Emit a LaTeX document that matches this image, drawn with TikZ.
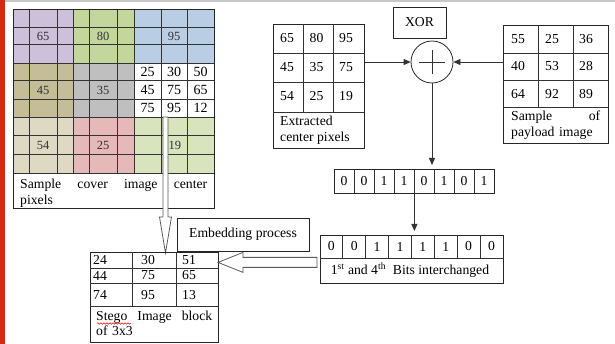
\documentclass[tikz,border=0pt]{standalone}
\usepackage{fontspec}
\setmainfont{Liberation Serif}
\usetikzlibrary{arrows.meta,calc,decorations.pathmorphing}

\definecolor{lavender}{HTML}{CCC0DA}
\definecolor{leaf}{HTML}{C3D69B}
\definecolor{sky}{HTML}{B9CDE5}
\definecolor{khaki}{HTML}{C4BD97}
\definecolor{stone}{HTML}{BFBFBF}
\definecolor{beige}{HTML}{DDD9C3}
\definecolor{rose}{HTML}{E6B9B8}
\definecolor{mint}{HTML}{D7E4BD}
\definecolor{sidebar}{HTML}{D5281B}

\begin{document}
\begin{tikzpicture}[x=1pt,y=-1pt,>={Triangle[length=7pt,width=6pt]},
    font=\fontsize{13.7}{15.5}\selectfont,
    frame/.style={draw=black!85,line width=0.8pt,inner sep=0pt,anchor=north west},
    grid line/.style={draw=black!80,line width=0.8pt},
    hollow/.style={draw=black!65,fill=white,line width=0.8pt},
    num/.style={inner sep=0pt,anchor=west},
    covernum/.style={inner sep=0pt,text=black!80,font=\fontsize{12.5}{14}\selectfont},
    bignum/.style={inner sep=0pt,font=\fontsize{14}{16}\selectfont},
    caption/.style={inner xsep=7pt,inner ysep=4pt,anchor=north west,align=left}]

    \useasboundingbox (0,0) rectangle (615,344);

    % Page edges
    \fill[sidebar] (0,0) rectangle (5,344);
    \fill[black!22] (5,0) rectangle (615,2.5);

    % Cover image blocks
    \foreach \xa/\xb/\ya/\yb/\col in {13/73/9/63/lavender, 73/134/9/63/leaf,
            134/214/9/63/sky, 13/73/63/117/khaki, 73/134/63/117/stone,
            134/214/63/117/white, 13/73/117/173/beige, 73/134/117/173/rose,
            134/214/117/173/mint} {
        \fill[\col] (\xa,\ya) rectangle (\xb,\yb);
    }
    \foreach \x in {29,57,73,89,117,134,161,187} {
        \draw[grid line] (\x,9) -- (\x,173);
    }
    \foreach \y in {27,44,63,80,99,117,135,154,173} {
        \draw[grid line] (13,\y) -- (214,\y);
    }
    \node[frame,minimum width=201pt,minimum height=199pt] (cover) at (13,9) {};

    \foreach \x/\y/\v [count=\i] in {43/36/65, 103/36/80, 174/36/95,
            43/90/45, 103/90/35, 43/145/54, 103/145/25} {
        \node[covernum] (cov\i) at (\x,\y) {\v};
    }
    \node[covernum,anchor=west] (cov8) at (168.5,145) {19};

    % Center block in white
    \foreach \v [count=\i from 0] in {25,30,50,45,75,65,75,95,12} {
        \pgfmathtruncatemacro{\r}{int(\i/3)}
        \pgfmathtruncatemacro{\c}{mod(\i,3)}
        \node[bignum] (ctr\i) at (147.5+26.5*\c,71.5+18.2*\r) {\v};
    }

    \node[caption,text width=187pt,inner ysep=6pt] (covercap) at (13,173)
        {\hbox to 187pt{Sample\hfill cover\hfill image\hfill center}\\pixels};

    % Down arrow to stego block
    \coordinate (downfrom) at (165.5,117);
    \draw[hollow] (downfrom) ++(-2.5,0) -- ++(0,100) -- ++(-3.5,0)
        -- ++(6,36) -- ++(6,-36) -- ++(-3.5,0) -- ++(0,-100) -- cycle;

    % Extracted center pixels
    \node[frame,minimum width=91pt,minimum height=124pt] (ext) at (273,24) {};
    \foreach \x in {303,333} {
        \draw[grid line] (\x,24) -- (\x,112);
    }
    \foreach \y in {53,82,112} {
        \draw[grid line] (273,\y) -- (364,\y);
    }
    \foreach \v [count=\i from 0] in {65,80,95,45,35,75,54,25,19} {
        \pgfmathtruncatemacro{\r}{int(\i/3)}
        \pgfmathtruncatemacro{\c}{mod(\i,3)}
        \node[num] (ext\i) at (280+29.5*\c,38.5+29*\r) {\v};
    }
    \node[caption] (extcap) at (273,112) {Extracted\\center pixels};

    % Payload sample
    \node[frame,minimum width=105pt,minimum height=118pt] (pay) at (503,25) {};
    \foreach \x in {538,573} {
        \draw[grid line] (\x,25) -- (\x,107);
    }
    \foreach \y in {53,80,107} {
        \draw[grid line] (503,\y) -- (608,\y);
    }
    \foreach \v [count=\i from 0] in {55,25,36,40,53,28,64,92,89} {
        \pgfmathtruncatemacro{\r}{int(\i/3)}
        \pgfmathtruncatemacro{\c}{mod(\i,3)}
        \node[num] (pay\i) at (511+34*\c,39+27.3*\r) {\v};
    }
    \node[caption,text width=89pt,inner xsep=8pt] (paycap) at (503,107)
        {\hbox to 89pt{Sample\hfill of}\\payload image};

    % XOR
    \node[draw=black!85,line width=0.8pt,minimum width=53pt,minimum height=31pt]
        (xorlbl) at (419.5,22.5) {XOR};
    \node[draw=black!85,line width=0.8pt,circle,minimum size=42pt] (xor) at (432,62) {};
    \draw[black!80,line width=0.8pt] (xor.center) ++(-13,0) -- ++(26,0);
    \draw[black!80,line width=0.8pt] (xor.center) ++(0,-12) -- ++(0,24);

    \draw[->,black!80,line width=0.8pt] (ext.east |- xor.west) -- (xor.west);
    \draw[->,black!80,line width=0.8pt] (pay.west |- xor.east) -- (xor.east);

    % XOR result bits
    \node[frame,minimum width=160pt,minimum height=24pt] (bit1) at (334,169) {};
    \foreach \k in {1,...,7} {
        \draw[grid line] (334+20*\k,169) -- ++(0,24);
    }
    \foreach \b [count=\k from 0] in {0,0,1,1,0,1,0,1} {
        \node[inner sep=0pt] (bi\k) at (344+20*\k,181) {\b};
    }
    \draw[->,black!80,line width=0.8pt,shorten >=4pt] (xor.south) -- (xor.south |- bit1.north);

    % Interchanged bits
    \node[frame,minimum width=183pt,minimum height=48pt] (bit2) at (320,235) {};
    \draw[grid line] (320,258) -- (503,258);
    \foreach \k in {1,...,7} {
        \draw[grid line] (320+22.875*\k,235) -- ++(0,23);
    }
    \foreach \b [count=\k from 0] in {0,0,1,1,1,1,0,0} {
        \node[inner sep=0pt] (bo\k) at (331.4+22.875*\k,246.5) {\b};
    }
    \node[inner sep=0pt] (bitcap) at (410,270.5)
        {1\textsuperscript{st} and 4\textsuperscript{th}\ \ Bits interchanged};
    \draw[->,black!80,line width=0.8pt,shorten >=4pt] (bit1.south) -- (bit1.south |- bit2.north);

    % Embedding process
    \node[draw=black!85,line width=0.8pt,minimum width=132pt,minimum height=33pt]
        (emb) at (243,234.5) {Embedding process};

    % Stego image block
    \node[frame,minimum width=128pt,minimum height=90pt] (stego) at (90,252) {};
    \foreach \x in {132,176} {
        \draw[grid line] (\x,252) -- (\x,306);
    }
    \foreach \y in {268,283,306} {
        \draw[grid line] (90,\y) -- (218,\y);
    }
    \foreach \x/\y/\v [count=\i] in {93/260/24, 141/260/30, 182/260/51,
            93/275.5/44, 141/275.5/75, 182/275.5/65,
            93/295/74, 141/295/95, 182/295/13} {
        \node[num] (st\i) at (\x,\y) {\v};
    }
    \node[caption,text width=116pt,inner xsep=6pt,inner ysep=4.5pt] (stegocap) at (90,306)
        {\hbox to 116pt{Stego\hfill Image\hfill block}\\of 3x3};
    \draw[red,line width=0.5pt,decorate,decoration={snake,amplitude=0.8pt,segment length=3pt}]
        (97,323.5) -- (131,323.5);

    % Left arrow into stego block
    \draw[hollow] ($(bit2.west)+(-3,3)$) -- ++(0,-5) -- ++(-74,0) -- ++(0,-5)
        -- ++(-25,10) -- ++(25,10) -- ++(0,-5) -- ++(74,0) -- cycle;

\end{tikzpicture}
\end{document}
